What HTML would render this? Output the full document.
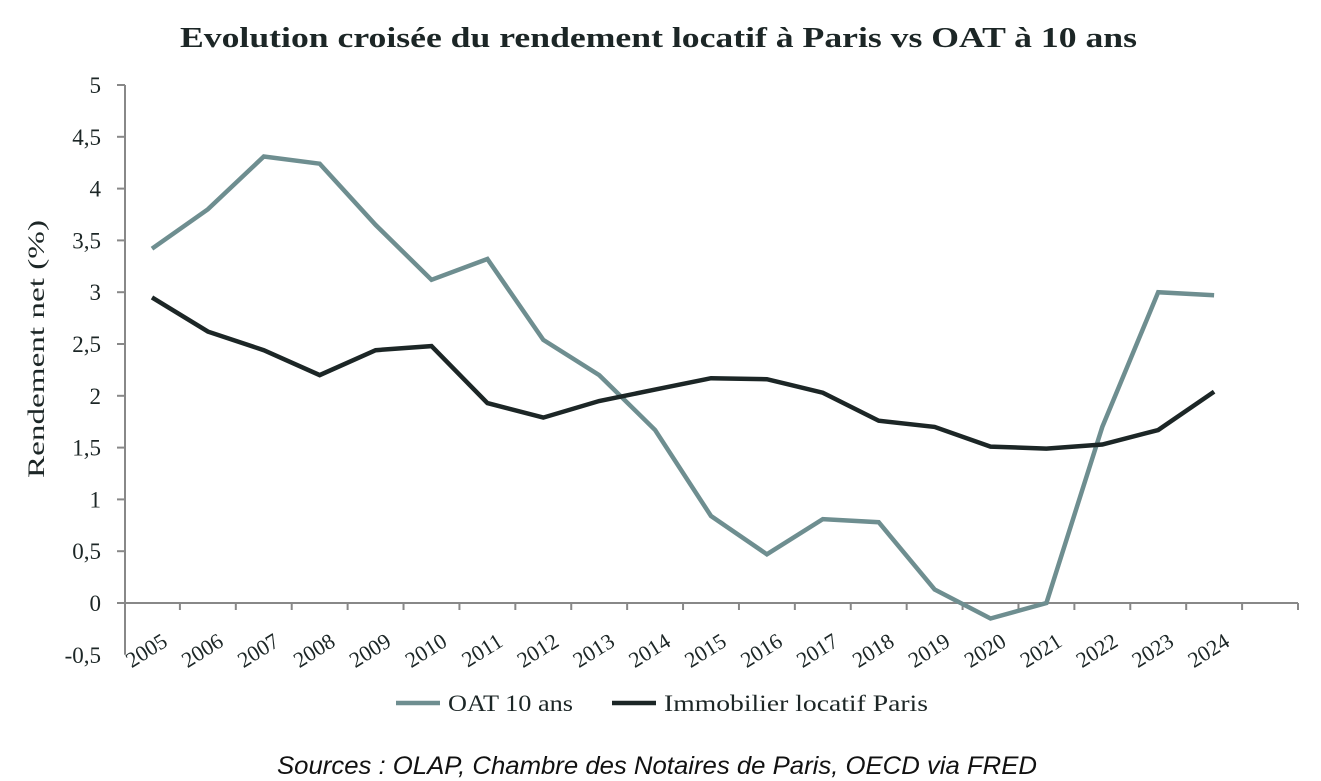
<!DOCTYPE html>
<html><head><meta charset="utf-8"><style>
html,body{margin:0;padding:0;background:#fff;}
svg{display:block;}
</style></head><body>
<svg width="1321" height="781" viewBox="0 0 1321 781">
<text x="180" y="47" textLength="957" lengthAdjust="spacingAndGlyphs" font-family="Liberation Serif, serif" font-weight="bold" font-size="28" fill="#1c2626">Evolution croisée du rendement locatif à Paris vs OAT à 10 ans</text>
<g id="axes"></g>
<g id="marks"></g>
<text transform="translate(44,478) rotate(-90)" textLength="258" lengthAdjust="spacingAndGlyphs" font-family="Liberation Serif, serif" font-size="23" fill="#1c2626">Rendement net (%)</text>
<g>
<line x1="396" y1="703" x2="440" y2="703" stroke="#6e8e90" stroke-width="4.5"/>
<text x="448" y="711" textLength="125" lengthAdjust="spacingAndGlyphs" font-family="Liberation Serif, serif" font-size="23" fill="#1c2626">OAT 10 ans</text>
<line x1="612" y1="703" x2="656" y2="703" stroke="#1c2626" stroke-width="4.5"/>
<text x="664" y="711" textLength="264" lengthAdjust="spacingAndGlyphs" font-family="Liberation Serif, serif" font-size="23" fill="#1c2626">Immobilier locatif Paris</text>
</g>
<text x="277" y="774" textLength="760" lengthAdjust="spacingAndGlyphs" font-family="Liberation Sans, sans-serif" font-style="italic" font-size="25" fill="#111">Sources : OLAP, Chambre des Notaires de Paris, OECD via FRED</text>
</svg>
<script>
const years = ["2005","2006","2007","2008","2009","2010","2011","2012","2013","2014","2015","2016","2017","2018","2019","2020","2021","2022","2023","2024"];
const oat = [3.42,3.8,4.31,4.24,3.65,3.12,3.32,2.54,2.2,1.67,0.84,0.47,0.81,0.78,0.13,-0.15,0.0,1.7,3.0,2.97];
const immo = [2.95,2.62,2.44,2.2,2.44,2.48,1.93,1.79,1.95,2.06,2.17,2.16,2.03,1.76,1.7,1.51,1.49,1.53,1.67,2.04];
const yTicks = [-0.5,0,0.5,1,1.5,2,2.5,3,3.5,4,4.5,5];
const NS='http://www.w3.org/2000/svg';
const x0=124, x1=1298, nCat=21, cw=(x1-x0)/nCat;
const yZero=603, pxPerUnit=103.6;
function xs(i){return x0+cw*(i+0.5);}
function ys(v){return yZero-v*pxPerUnit;}
function mk(tag,attrs,parent){const e=document.createElementNS(NS,tag);for(const k in attrs)e.setAttribute(k,attrs[k]);parent.appendChild(e);return e;}
const axes=document.getElementById('axes'), marks=document.getElementById('marks');
const yAxis=mk('line',{x1:125,y1:ys(5),x2:125,y2:ys(-0.5),stroke:'#888','stroke-width':2},axes);


yTicks.forEach(t=>{
  if(t>=0){const tk=mk('line',{x1:117,y1:ys(t),x2:125,y2:ys(t),stroke:'#888','stroke-width':2},axes);
  
  }
  const lb=mk('text',{x:101,y:ys(t)+8,'text-anchor':'end','font-family':'Liberation Serif, serif','font-size':23,fill:'#1c2626'},axes);
  lb.textContent=String(t).replace('.',',');
  
  
});
const xAxis=mk('line',{x1:117,y1:yZero,x2:x1,y2:yZero,stroke:'#888','stroke-width':2},axes);


for(let i=1;i<=nCat;i++){
  const tk=mk('line',{x1:x0+cw*i,y1:yZero,x2:x0+cw*i,y2:yZero+7,stroke:'#888','stroke-width':2},axes);
  
  
}
years.forEach((y,i)=>{
  const cx=xs(i)+17, cy=645;
  const lb=mk('text',{x:cx,y:cy,'text-anchor':'end','font-family':'Liberation Serif, serif','font-size':22,fill:'#1c2626',transform:`rotate(-32 ${cx} ${cy})`},axes);
  lb.textContent=y;
  
  
});
function series(vals,color,name){
  const d=vals.map((v,i)=>(i?'L':'M')+xs(i).toFixed(1)+','+ys(v).toFixed(1)).join(' ');
  const p=mk('path',{d:d,fill:'none',stroke:color,'stroke-width':4.5,'stroke-linejoin':'miter'},marks);
  
  
}
series(oat,'#6e8e90','oat-line');
series(immo,'#1c2626','immo-line');
</script>
</body></html>
